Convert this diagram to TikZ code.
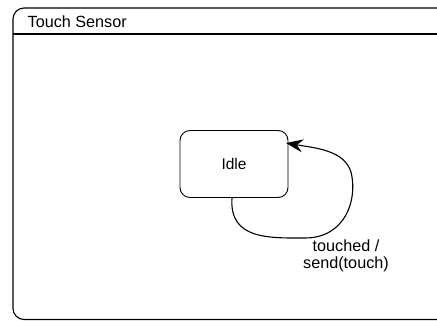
\documentclass[tikz,border=0pt]{standalone}
\usepackage{fontspec}
\setmainfont{Liberation Sans}
\usetikzlibrary{arrows.meta}
\begin{document}
\begin{tikzpicture}[x=1pt,y=-1pt,
  frame/.style={draw=black,line width=1.1pt,rounded corners=11pt},
  statebox/.style={draw=black,line width=0.9pt,rounded corners=10pt,
    minimum width=108pt,minimum height=67pt,inner sep=0pt,font=\fontsize{15.5}{18}\selectfont},
  lbl/.style={font=\fontsize{16.2}{17.5}\selectfont,align=center,inner sep=0pt},
  trans/.style={draw=black,line width=1.1pt,-{Stealth[length=17pt,width=13pt,inset=6pt]}}]
\useasboundingbox (0,0) rectangle (437,321);
\clip (0,0) rectangle (437,321);
% enclosing state with its title bar
\draw[frame] (13,319.5) -- (13,8) -- (450,8) -- (450,319.5) -- cycle;
\draw[line width=1.1pt] (13,34) -- (450,34);
\node[anchor=west,font=\fontsize{16.2}{18}\selectfont,inner sep=0pt] (title) at (27.5,21.5) {Touch Sensor};
% the single state
\node[statebox] (idle) at (234,164) {Idle};
% self transition
\coordinate (tip) at (286,143);
\draw[trans] ([xshift=-2pt]idle.south) .. controls (229,240) and (270,238) .. (305,238)
  .. controls (345,238) and (358,200) .. (351,172)
  .. controls (344,150) and (315,148) .. (tip);
\node[lbl] (ev) at (346,256) {touched /\\send(touch)};
\end{tikzpicture}
\end{document}
